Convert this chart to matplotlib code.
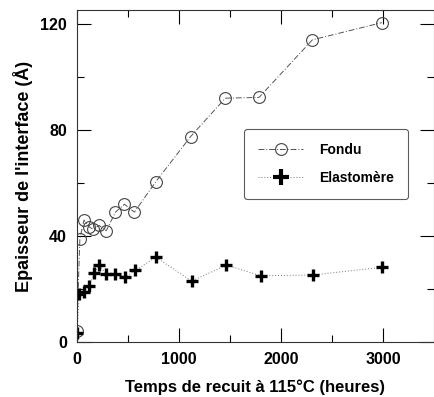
import matplotlib.pyplot as plt
from matplotlib.ticker import MultipleLocator

plt.rcParams['font.family'] = ['Liberation Sans', 'DejaVu Sans']
plt.rcParams['font.weight'] = 'bold'

# annealing time (h) and interface thickness (A)
fondu_t = [0, 30, 70, 120, 160, 217, 288, 378, 466, 563, 773, 1113, 1453, 1783, 2304, 2984]
fondu_e = [4.3, 39, 46, 43.5, 42.5, 44, 42, 49, 52, 49, 60.5, 77.5, 92, 92.3, 114, 120.5]

elast_t = [3, 22, 68, 120, 168, 217, 288, 378, 476, 573, 773, 1123, 1463, 1800, 2313, 2984]
elast_e = [3.3, 18, 19, 21, 26, 29, 25.7, 25.7, 24.6, 27, 32, 23, 29, 25, 25.3, 28.2]

fig = plt.figure(figsize=(4.34, 3.97), dpi=100)
ax = fig.add_axes([0.177, 0.1385, 0.822, 0.8365])

ax.plot(fondu_t, fondu_e, color='#555555', lw=0.7, ls=(0, (6, 2, 1, 2)),
        marker='o', ms=8.5, mfc='none', mec='#444444', mew=0.8, label='Fondu')
ax.plot(elast_t, elast_e, color='#777777', lw=0.7, ls=(0, (1, 2)))
ax.plot(elast_t, elast_e, ls='none', marker='+', ms=8, mew=2.4, color='black')
ax.plot([], [], color='#777777', lw=0.7, ls=(0, (1, 2)),
        marker='+', ms=11, mew=3, mec='black', label='Elastomère')

ax.set_xlim(0, 3490)
ax.set_ylim(0, 125.3)
ax.xaxis.set_major_locator(MultipleLocator(1000))
ax.xaxis.set_minor_locator(MultipleLocator(500))
ax.yaxis.set_major_locator(MultipleLocator(40))
ax.yaxis.set_minor_locator(MultipleLocator(20))
ax.tick_params(which='both', direction='in', top=True, right=True, width=0.8)
ax.tick_params(which='major', length=10, labelsize=11.5, pad=7)
ax.tick_params(which='minor', length=5)
for s in ax.spines.values():
    s.set_linewidth(0.8)
    s.set_color('#333333')

ax.set_xlabel('Temps de recuit à 115°C (heures)', fontsize=12, fontweight='bold', labelpad=9)
ax.set_ylabel("Epaisseur de l'interface (Å)", fontsize=13, fontweight='bold', labelpad=5)

leg = ax.legend(loc='upper left', bbox_to_anchor=(0.47, 0.642), borderaxespad=0,
                fontsize=10, frameon=True, fancybox=True, edgecolor='#333333',
                handlelength=3.2, borderpad=1.0, labelspacing=1.05, handletextpad=1.2)
leg.get_frame().set_linewidth(0.8)
for t in leg.get_texts():
    t.set_fontweight('bold')

fig.savefig('out.png', dpi=100)
